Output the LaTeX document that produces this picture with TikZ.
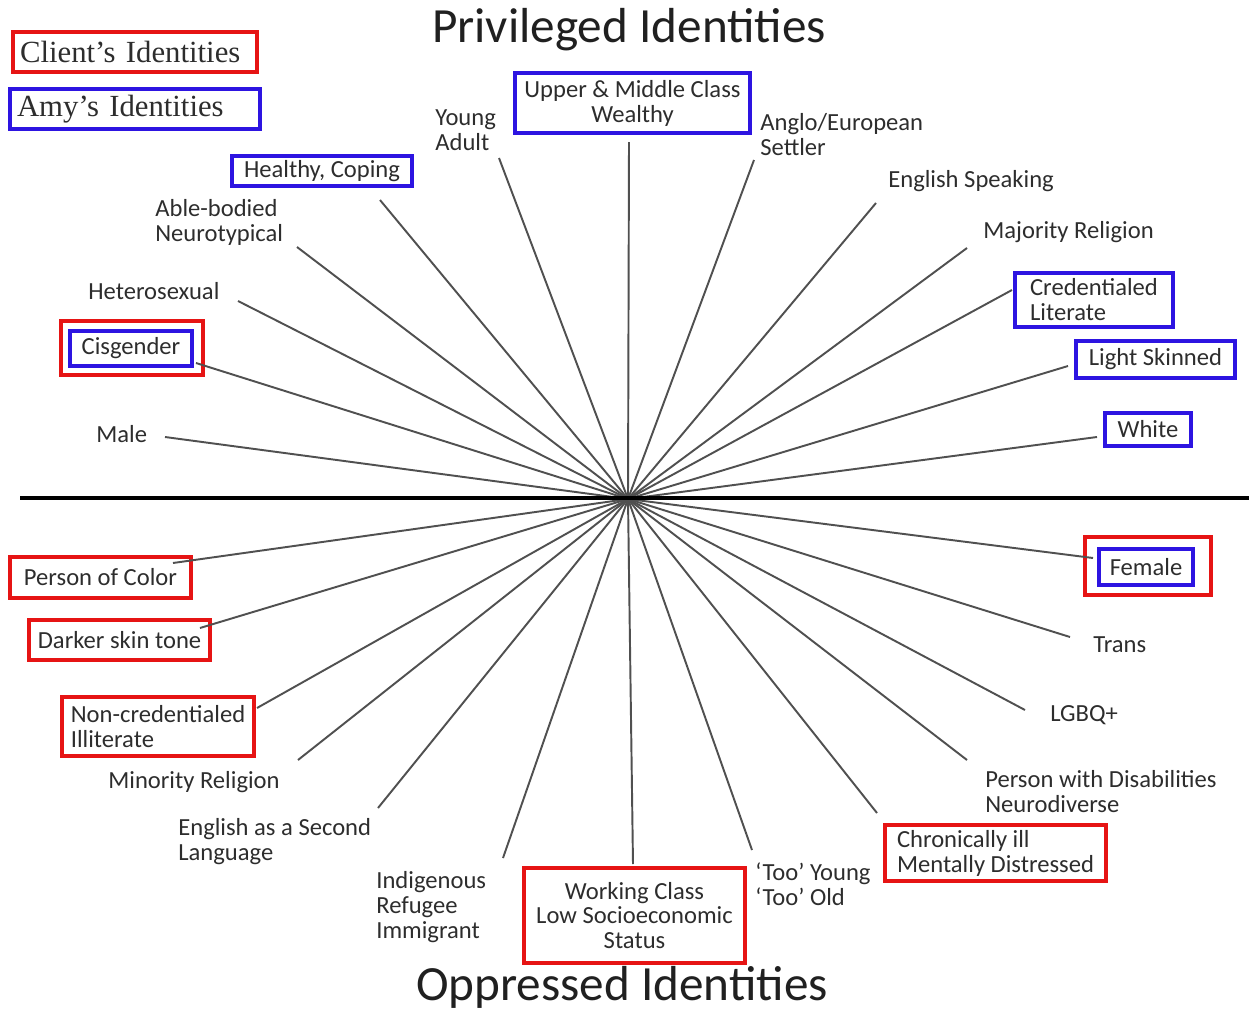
\documentclass[tikz,border=0pt]{standalone}
\usepackage{fontspec}
\setmainfont{Carlito}
\newfontfamily\keyfont{Liberation Serif}
\usepackage{xcolor}
\usepackage{tikz}
\definecolor{boxred}{RGB}{230, 20, 20}
\definecolor{boxblue}{RGB}{45, 20, 225}
\definecolor{ink}{RGB}{45, 45, 45}
\definecolor{spokegray}{RGB}{80, 80, 80}
\tikzset{
  lbl/.style={font=\fontsize{14}{14.2}\selectfont, text=ink, inner sep=0pt, align=left},
  title/.style={font=\fontsize{28}{30}\selectfont, text=ink!70!black, inner sep=0pt, anchor=base},
  keybox/.style={font=\keyfont\fontsize{17.5}{18}\selectfont, text=ink, align=left, inner sep=0pt, minimum height=0.8cm},
  redbox/.style={draw=boxred, line width=2.2pt},
  bluebox/.style={draw=boxblue, line width=2.2pt},
  spoke/.style={draw=spokegray, line width=1.1pt},
}

\begin{document}
\begin{tikzpicture}[x=0.02cm, y=-0.02cm]
\useasboundingbox (0,0) rectangle (1249,1011);

\coordinate (O) at (628,499);
\coordinate (axL) at (20,498);
\coordinate (axR) at (1249,498);

% key
\node[keybox, redbox, text width=4.6cm, inner xsep=0.14cm] (client) at (135,52) {Client’s Identities};
\node[keybox, bluebox, text width=4.72cm, inner xsep=0.14cm] (amy) at (135,109) {Amy’s Identities};

% titles
\node[title] (priv) at (629,42) {Privileged Identities};
\node[title] (oppr) at (622,1000) {Oppressed Identities};

% privileged side
\node[lbl, anchor=west] (male) at (96,434) {Male};
\node[lbl, redbox, minimum width=2.84cm, minimum height=1.08cm] (cisR) at (132,348) {};
\node[lbl, bluebox, minimum width=2.44cm, minimum height=0.7cm] (cis) at (131,348.5) {Cisgender};
\node[lbl, anchor=west] (hetero) at (88,291) {Heterosexual};
\node[lbl, anchor=west] (able) at (155,222) {Able-bodied\\Neurotypical};
\node[lbl, bluebox, minimum width=3.6cm, minimum height=0.6cm] (healthy) at (322,171) {Healthy, Coping};
\node[lbl, anchor=west] (young) at (435,130) {Young\\Adult};
\node[lbl, bluebox, align=center, minimum width=4.7cm, minimum height=1.2cm] (upper) at (632.5,103) {Upper \& Middle Class\\Wealthy};
\node[lbl, anchor=west] (anglo) at (760,135) {Anglo/European\\Settler};
\node[lbl, anchor=west] (english) at (888,181) {English Speaking};
\node[lbl, anchor=west] (major) at (983,232) {Majority Religion};
\node[lbl, bluebox, minimum width=3.16cm, minimum height=1.08cm] (cred) at (1094,300) {Credentialed\\Literate};
\node[lbl, bluebox, minimum width=3.18cm, minimum height=0.74cm] (light) at (1155.5,359.5) {Light Skinned};
\node[lbl, bluebox, minimum width=1.72cm, minimum height=0.66cm] (white) at (1148,429.5) {White};

% oppressed side
\node[lbl, redbox, minimum width=3.62cm, minimum height=0.82cm] (poc) at (100.5,577.5) {Person of Color};
\node[lbl, redbox, minimum width=3.62cm, minimum height=0.8cm] (dark) at (119.5,640) {Darker skin tone};
\node[lbl, redbox, minimum width=3.84cm, minimum height=1.18cm] (noncred) at (158,726.5) {Non-credentialed\\Illiterate};
\node[lbl, anchor=west] (minority) at (108,782) {Minority Religion};
\node[lbl, anchor=west] (esl) at (178,842) {English as a Second\\Language};
\node[lbl, anchor=west] (indig) at (376,907) {Indigenous\\Refugee\\Immigrant};
\node[lbl, redbox, align=center, minimum width=4.42cm, minimum height=1.9cm] (work) at (634.5,915.5) {Working Class\\Low Socioeconomic\\Status};
\node[lbl, anchor=west] (too) at (755,884) {‘Too’ Young\\‘Too’ Old};
\node[lbl, redbox, minimum width=4.42cm, minimum height=1.12cm] (chron) at (995.5,853) {Chronically ill\\Mentally Distressed};
\node[lbl, anchor=west] (pwd) at (985,792) {Person with Disabilities\\Neurodiverse};
\node[lbl, anchor=west] (lgbq) at (1050,715) {LGBQ+};
\node[lbl, anchor=west] (trans) at (1093,645) {Trans};
\node[lbl, redbox, minimum width=2.52cm, minimum height=1.16cm] (femR) at (1148,566) {};
\node[lbl, bluebox, minimum width=1.88cm, minimum height=0.72cm] (female) at (1146,567) {Female};

% spoke ends
\coordinate (s-male) at (165,437);
\coordinate (s-cis) at (196,363);
\coordinate (s-hetero) at (238,301);
\coordinate (s-able) at (297,247);
\coordinate (s-healthy) at (380,200);
\coordinate (s-young) at (499,158);
\coordinate (s-upper) at (629,142);
\coordinate (s-anglo) at (754,160);
\coordinate (s-english) at (876,203);
\coordinate (s-major) at (967,248);
\coordinate (s-cred) at (1012,290);
\coordinate (s-light) at (1068,366);
\coordinate (s-white) at (1097,437);
\coordinate (s-poc) at (173,563);
\coordinate (s-dark) at (200,628);
\coordinate (s-noncred) at (257,708);
\coordinate (s-minority) at (298,760);
\coordinate (s-esl) at (378,808);
\coordinate (s-indig) at (503,858);
\coordinate (s-work) at (633,864);
\coordinate (s-too) at (752,850);
\coordinate (s-chron) at (877,813);
\coordinate (s-pwd) at (967,760);
\coordinate (s-lgbq) at (1025,710);
\coordinate (s-trans) at (1070,637);
\coordinate (s-female) at (1093,558);

\foreach \p in {male,cis,hetero,able,healthy,young,upper,anglo,english,major,cred,light,white,
  poc,dark,noncred,minority,esl,indig,work,too,chron,pwd,lgbq,trans,female}
  \draw[spoke] (O) -- (s-\p);

\draw[line width=2.4pt] (axL) -- (axR);

\end{tikzpicture}
\end{document}
